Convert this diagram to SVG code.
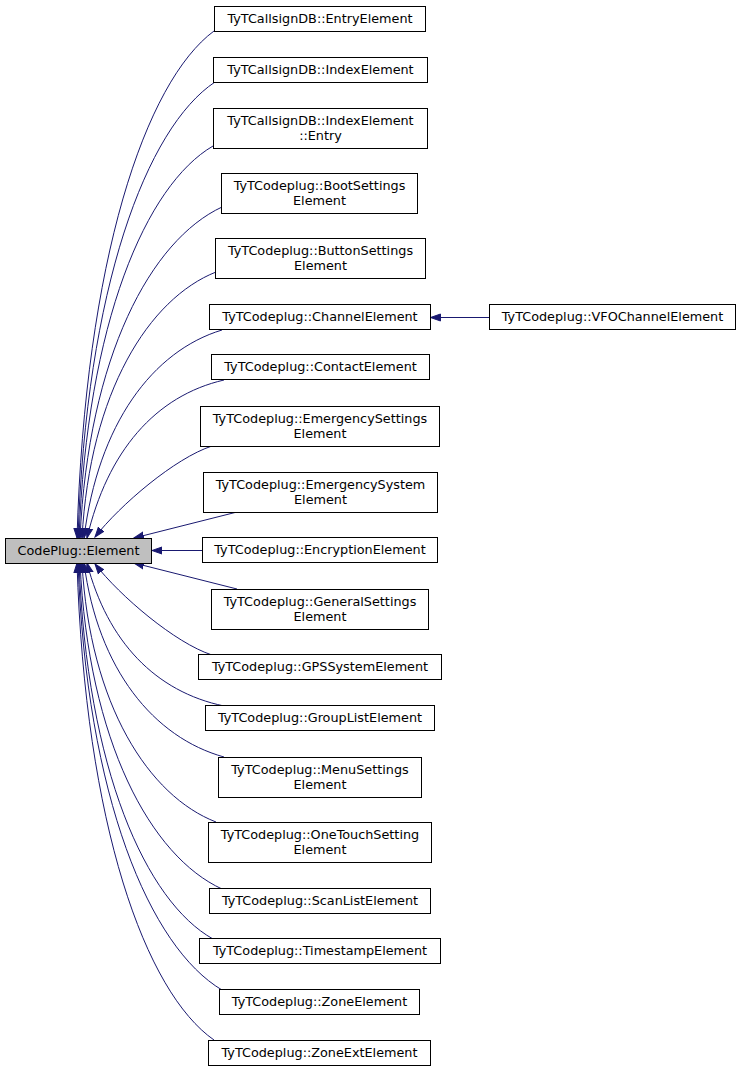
<svg xmlns="http://www.w3.org/2000/svg" width="741" height="1072" viewBox="0 0 741 1072">
<style>
.n rect{fill:#ffffff;stroke:#000000;stroke-width:1}
.p rect{fill:#bfbfbf;stroke:#000000;stroke-width:1}
text{font-family:"DejaVu Sans","Liberation Sans",sans-serif;font-size:12.8px;fill:#000000;text-anchor:middle}
.e path{fill:none;stroke:#191970;stroke-width:1;marker-end:url(#ah)}
</style>
<defs>
<marker id="ah" markerUnits="userSpaceOnUse" markerWidth="12" markerHeight="10" refX="10" refY="4" orient="auto" viewBox="0 0 12 8">
<path d="M0,0.5 L10,4 L0,7.5 z" fill="#191970" stroke="#191970" stroke-width="1"/>
</marker>
</defs>
<rect x="0" y="0" width="741" height="1072" fill="#ffffff"/>
<g class="e" id="edges">
<path d="M214,31 C145.5,81.7 85.2,259.1 77,538"/>
<path d="M215,82 C146.5,127.6 86.2,287.2 78,538"/>
<path d="M213,146 C146,185.2 87,322.4 79,538"/>
<path d="M222,207 C151,240.1 88.5,355.9 80,538"/>
<path d="M216,272 C149,298.6 90,391.7 82,538"/>
<path d="M222,330 C153,350.8 98,423.6 84,538"/>
<path d="M224,380 C155.5,395.8 107.5,451.1 87,538"/>
<path d="M212,446 C175,458 120,505 95,537"/>
<path d="M237,512 L134,538"/>
<path d="M202,550.5 L152,550.5"/>
<path d="M237,589 L134,563"/>
<path d="M212,655 C175,643 120,596 95,564"/>
<path d="M224,706 C155.5,691.7 107.5,641.7 87,563"/>
<path d="M224,757 C154,737.6 98,669.7 84,563"/>
<path d="M216,822 C149,796.1 90,705.5 82,563"/>
<path d="M222,889 C151,856.4 88.5,742.3 80,563"/>
<path d="M213,939 C146,901.4 87,769.8 79,563"/>
<path d="M222,990 C150,947.3 86.6,797.9 78,563"/>
<path d="M214,1040 C145.5,992.3 85.2,825.4 77,563"/>
<path d="M489,317.5 L430.5,317.5"/>
</g>
<g id="node_parent" class="p"><rect x="5.5" y="538.5" width="146" height="25"/><text x="78.5" y="555">CodePlug::Element</text></g>
<g id="node1" class="n"><rect x="214.5" y="6.5" width="211" height="25"/><text x="320" y="23">TyTCallsignDB::EntryElement</text></g>
<g id="node2" class="n"><rect x="213.5" y="57.5" width="214" height="25"/><text x="320.5" y="74">TyTCallsignDB::IndexElement</text></g>
<g id="node3" class="n"><rect x="213.5" y="108.5" width="214" height="40"/><text x="320.5" y="125">TyTCallsignDB::IndexElement</text><text x="320.5" y="140">::Entry</text></g>
<g id="node4" class="n"><rect x="221.5" y="173.5" width="196" height="40"/><text x="319.5" y="190">TyTCodeplug::BootSettings</text><text x="319.5" y="205">Element</text></g>
<g id="node5" class="n"><rect x="215.5" y="238.5" width="210" height="40"/><text x="320.5" y="255">TyTCodeplug::ButtonSettings</text><text x="320.5" y="270">Element</text></g>
<g id="node6" class="n"><rect x="209.5" y="304.5" width="221" height="25"/><text x="320" y="321">TyTCodeplug::ChannelElement</text></g>
<g id="node7" class="n"><rect x="211.5" y="354.5" width="218" height="25"/><text x="320.5" y="371">TyTCodeplug::ContactElement</text></g>
<g id="node8" class="n"><rect x="200.5" y="406.5" width="239" height="40"/><text x="320" y="423">TyTCodeplug::EmergencySettings</text><text x="320" y="438">Element</text></g>
<g id="node9" class="n"><rect x="203.5" y="472.5" width="234" height="40"/><text x="320.5" y="489">TyTCodeplug::EmergencySystem</text><text x="320.5" y="504">Element</text></g>
<g id="node10" class="n"><rect x="202.5" y="537.5" width="235" height="25"/><text x="320" y="554">TyTCodeplug::EncryptionElement</text></g>
<g id="node11" class="n"><rect x="211.5" y="589.5" width="217" height="40"/><text x="320" y="606">TyTCodeplug::GeneralSettings</text><text x="320" y="621">Element</text></g>
<g id="node12" class="n"><rect x="198.5" y="654.5" width="243" height="25"/><text x="320" y="671">TyTCodeplug::GPSSystemElement</text></g>
<g id="node13" class="n"><rect x="205.5" y="705.5" width="229" height="25"/><text x="320" y="722">TyTCodeplug::GroupListElement</text></g>
<g id="node14" class="n"><rect x="218.5" y="757.5" width="203" height="40"/><text x="320" y="774">TyTCodeplug::MenuSettings</text><text x="320" y="789">Element</text></g>
<g id="node15" class="n"><rect x="208.5" y="822.5" width="223" height="40"/><text x="320" y="839">TyTCodeplug::OneTouchSetting</text><text x="320" y="854">Element</text></g>
<g id="node16" class="n"><rect x="209.5" y="888.5" width="221" height="25"/><text x="320" y="905">TyTCodeplug::ScanListElement</text></g>
<g id="node17" class="n"><rect x="199.5" y="938.5" width="241" height="25"/><text x="320" y="955">TyTCodeplug::TimestampElement</text></g>
<g id="node18" class="n"><rect x="219.5" y="989.5" width="200" height="25"/><text x="319.5" y="1006">TyTCodeplug::ZoneElement</text></g>
<g id="node19" class="n"><rect x="208.5" y="1040.5" width="222" height="25"/><text x="319.5" y="1057">TyTCodeplug::ZoneExtElement</text></g>
<g id="node20" class="n"><rect x="489.5" y="304.5" width="246" height="25"/><text x="612.5" y="321">TyTCodeplug::VFOChannelElement</text></g>
</svg>
